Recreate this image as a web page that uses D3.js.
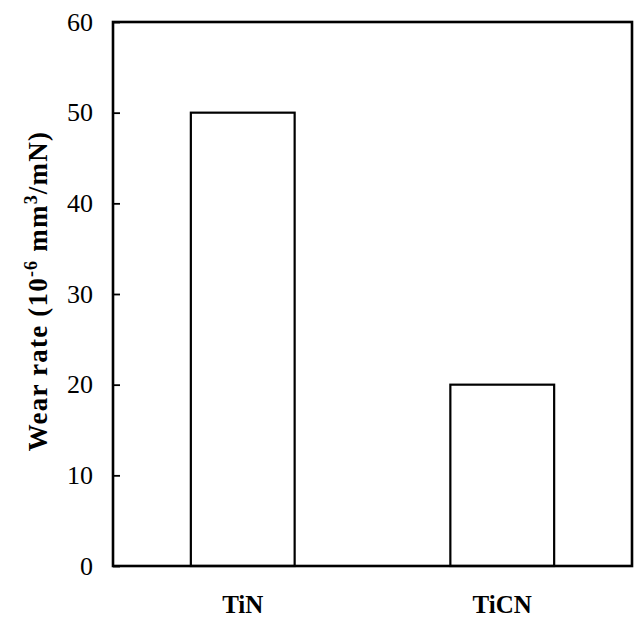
<!DOCTYPE html>
<html><head><meta charset="utf-8">
<script src="https://cdn.jsdelivr.net/npm/d3@7"></script>
<style>body{margin:0;background:#fff}</style>
</head><body>
<script>
const categories = ["TiN", "TiCN"];
const wearRate = [50, 20];
const yTicks = [0, 10, 20, 30, 40, 50, 60];

const W = 638, H = 618;
const m = {left: 113, right: 6, top: 22, bottom: 52};
const svg = d3.select("body").append("svg").attr("width", W).attr("height", H);
const pw = W - m.left - m.right, ph = H - m.top - m.bottom;
const g = svg.append("g").attr("transform", `translate(${m.left},${m.top})`);

const x = d3.scaleBand().domain(categories).range([0, pw]).paddingInner(0.6).paddingOuter(0.3);
const y = d3.scaleLinear().domain([0, 60]).range([ph, 0]);

// bars
g.selectAll("rect.bar").data(categories).join("rect")
  .attr("class", "bar")
  .attr("x", d => x(d)).attr("width", x.bandwidth())
  .attr("y", (d, i) => y(wearRate[i])).attr("height", (d, i) => ph - y(wearRate[i]))
  .attr("fill", "#fff").attr("stroke", "#000").attr("stroke-width", 2.2);

// y axis
const ya = g.append("g").call(d3.axisLeft(y).tickValues(yTicks).tickSize(-7).tickPadding(20));
ya.select(".domain").remove();
ya.selectAll("line").attr("stroke", "#000").attr("stroke-width", 1.8);
ya.selectAll("text").attr("font-family", "'Liberation Serif', 'Times New Roman', serif")
  .attr("font-size", 26).attr("fill", "#000");

// x axis labels
const xa = g.append("g").attr("transform", `translate(0,${ph})`)
  .call(d3.axisBottom(x).tickSize(0).tickPadding(29));
xa.select(".domain").remove();
xa.selectAll("text").attr("font-family", "'Liberation Serif', 'Times New Roman', serif")
  .attr("font-size", 25).attr("font-weight", "bold").attr("fill", "#000");

// frame
g.append("rect").attr("x", 0).attr("y", 0).attr("width", pw).attr("height", ph)
  .attr("fill", "none").attr("stroke", "#000").attr("stroke-width", 2.6);

// y title
const t = svg.append("text")
  .attr("transform", `translate(47,291) rotate(-90)`)
  .attr("text-anchor", "middle")
  .attr("letter-spacing", 1.2)
  .attr("font-family", "'Liberation Serif', 'Times New Roman', serif")
  .attr("font-size", 27).attr("font-weight", "bold").attr("fill", "#000");
t.append("tspan").text("Wear rate (10");
t.append("tspan").attr("dy", -10).attr("font-size", 18).text("-6");
t.append("tspan").attr("dy", 10).text(" mm");
t.append("tspan").attr("dy", -10).attr("font-size", 18).text("3");
t.append("tspan").attr("dy", 10).text("/mN)");
</script>
</body></html>
